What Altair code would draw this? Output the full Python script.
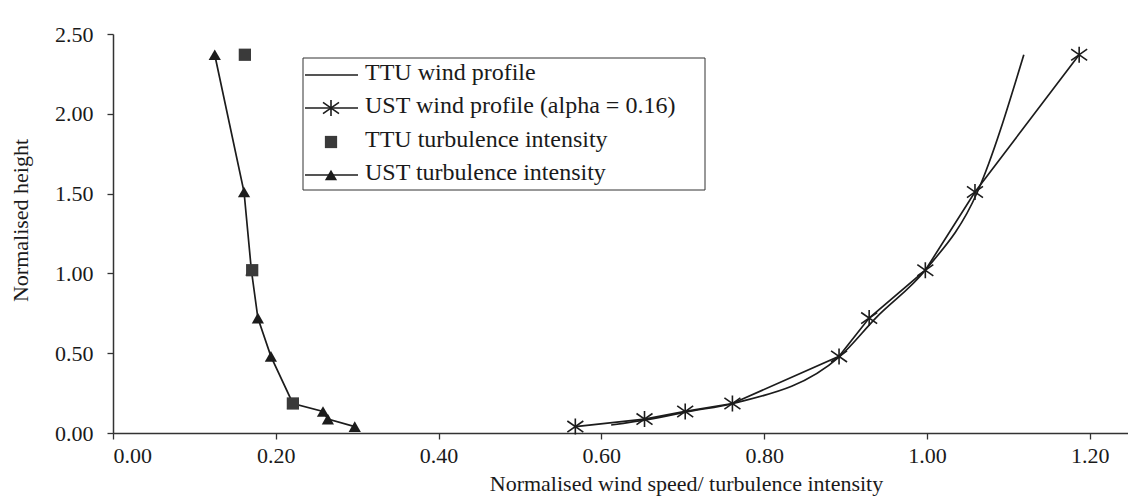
import altair as alt
import pandas as pd

# ---- data ----
heights = [0.04, 0.087, 0.135, 0.185, 0.48, 0.72, 1.02, 1.51, 2.37]
ust_wind = [0.568, 0.653, 0.703, 0.761, 0.892, 0.929, 0.998, 1.059, 1.187]
ttu_wind_h = [0.05, 0.087, 0.135, 0.185, 0.48, 0.72, 1.02, 1.51, 2.37]
ttu_wind = [0.612, 0.660, 0.708, 0.762, 0.893, 0.937, 0.998, 1.062, 1.119]
ust_ti = [0.297, 0.264, 0.258, 0.221, 0.194, 0.178, 0.170, 0.161, 0.125]
ttu_ti_h = [0.185, 1.02, 2.37]
ttu_ti = [0.221, 0.171, 0.162]

x_ticks = [0.0, 0.2, 0.4, 0.6, 0.8, 1.0, 1.2]
y_ticks = [0.0, 0.5, 1.0, 1.5, 2.0, 2.5]
legend_labels = ["TTU wind profile", "UST wind profile (alpha = 0.16)",
                 "TTU turbulence intensity", "UST turbulence intensity"]

FONT = "Liberation Serif"
INK = "#1c1c1c"
ASTERISK = "M-1,-0.7L1,0.7M-1,0.7L1,-0.7M0,-1L0,1"

df_ust_wind = pd.DataFrame({"x": ust_wind, "h": heights})
df_ttu_wind = pd.DataFrame({"x": ttu_wind, "h": ttu_wind_h})
df_ust_ti = pd.DataFrame({"x": ust_ti, "h": heights})
df_ttu_ti = pd.DataFrame({"x": ttu_ti, "h": ttu_ti_h})

xs = alt.Scale(domain=[0, 1.247], nice=False, zero=True)
ys = alt.Scale(domain=[0, 2.5], nice=False)

x_axis = alt.Axis(values=x_ticks, format=".2f", grid=False, tickSize=6,
                  labelPadding=23, labelBaseline="alphabetic", labelFontSize=22,
                  title="Normalised wind speed/ turbulence intensity",
                  titleX=573, titleY=57, titleAlign="center",
                  titleBaseline="alphabetic", titleFontSize=22)
y_axis = alt.Axis(values=y_ticks, format=".2f", grid=False, tickSize=6,
                  labelPadding=14, labelFontSize=22, title="Normalised height",
                  titleX=-93, titleY=186, titleAlign="center",
                  titleBaseline="middle", titleFontSize=22)

X = alt.X("x:Q", scale=xs, axis=x_axis)
Y = alt.Y("h:Q", scale=ys, axis=y_axis)

ttu_line = alt.Chart(df_ttu_wind).mark_line(
    color=INK, strokeWidth=1.7, interpolate="monotone"
).encode(x=X, y=Y, order="h:Q")

ust_line = alt.Chart(df_ust_wind).mark_line(
    color=INK, strokeWidth=1.7
).encode(x=X, y=Y, order="h:Q")

ust_pts = alt.Chart(df_ust_wind).mark_point(
    shape=ASTERISK, size=256, filled=False, stroke=INK, strokeWidth=1.6, opacity=1
).encode(x=X, y=Y)

ti_line = alt.Chart(df_ust_ti).mark_line(
    color=INK, strokeWidth=1.7
).encode(x=X, y=Y, order="h:Q")

ti_pts = alt.Chart(df_ust_ti).mark_point(
    shape="triangle-up", size=150, filled=True, fill=INK, opacity=1
).encode(x=X, y=Y)

ttu_sq = alt.Chart(df_ttu_ti).mark_point(
    shape="square", size=150, filled=True, fill="#3a3a3a", opacity=1
).encode(x=X, y=Y)

# ---- manual legend ----
one = pd.DataFrame({"k": [0]})
box = alt.Chart(one).mark_rect(fill="white", stroke="#333", strokeWidth=1).encode(
    x=alt.value(303 - 113), x2=alt.value(705 - 113),
    y=alt.value(58 - 34), y2=alt.value(190 - 34))

leg_layers = [box]
row_y = [73, 106, 140, 173]
sym_x0, sym_x1, sym_xc, text_x = 305 - 113, 358 - 113, 331 - 113, 365 - 113
for i, lab in enumerate(legend_labels):
    yy = row_y[i] - 34
    d = pd.DataFrame({"label": [lab]})
    if i in (0, 1, 3):
        leg_layers.append(alt.Chart(d).mark_rule(color=INK, strokeWidth=1.7).encode(
            x=alt.value(sym_x0), x2=alt.value(sym_x1), y=alt.value(yy + 2)))
    if i == 1:
        leg_layers.append(alt.Chart(d).mark_point(
            shape=ASTERISK, size=256, filled=False, stroke=INK, strokeWidth=1.6, opacity=1
        ).encode(x=alt.value(sym_xc), y=alt.value(yy + 2)))
    if i == 2:
        leg_layers.append(alt.Chart(d).mark_point(
            shape="square", size=150, filled=True, fill="#3a3a3a", opacity=1
        ).encode(x=alt.value(sym_xc), y=alt.value(yy + 2)))
    if i == 3:
        leg_layers.append(alt.Chart(d).mark_point(
            shape="triangle-up", size=150, filled=True, fill=INK, opacity=1
        ).encode(x=alt.value(sym_xc), y=alt.value(yy + 2)))
    leg_layers.append(alt.Chart(d).mark_text(
        align="left", baseline="middle", font=FONT, fontSize=24, color="#1a1a1a"
    ).encode(x=alt.value(text_x), y=alt.value(yy), text="label:N"))

chart = alt.layer(
    ttu_line, ust_line, ti_line, ust_pts, ti_pts, ttu_sq, *leg_layers
).properties(
    width=1015, height=399,
    autosize=alt.AutoSizeParams(type="none"),
    padding={"left": 113, "top": 34, "right": 0, "bottom": 68},
    background="white",
).configure_view(stroke=None).configure_axis(
    labelFont=FONT, labelColor="#1a1a1a",
    titleFont=FONT, titleFontWeight="normal", titleColor="#1a1a1a",
    domainColor="#333", domainWidth=1.5, tickColor="#333", tickWidth=1.3,
)

chart.save("out.html", embed_options={"renderer": "svg", "actions": False})
